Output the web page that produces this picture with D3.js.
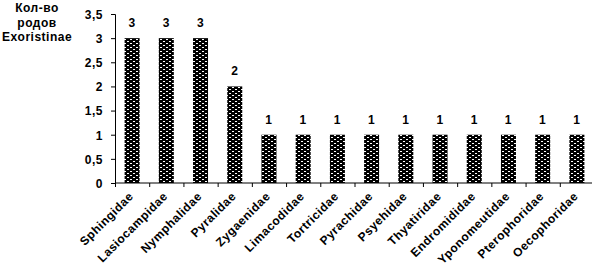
<!doctype html>
<html>
<head>
<meta charset="utf-8">
<script src="https://cdn.jsdelivr.net/npm/d3@7/dist/d3.min.js"></script>
<style>
        body { margin: 0; background: white; }
        svg { display: block; }
        text { font-family: "Liberation Sans", Arial, sans-serif; font-weight: bold; font-size: 12px; letter-spacing: 0.5px; fill: black; }
</style>
</head>
<body>
<svg width="592" height="272"></svg>
<script>

var families = ["Sphingidae", "Lasiocampidae", "Nymphalidae", "Pyralidae", "Zygaenidae",
        "Limacodidae", "Tortricidae", "Pyrachidae", "Psyehidae", "Thyatiridae",
        "Endromididae", "Yponomeutidae", "Pterophoridae", "Oecophoridae"];
var genera = [3, 3, 3, 2, 1, 1, 1, 1, 1, 1, 1, 1, 1, 1];
var yTicks = [0, 0.5, 1, 1.5, 2, 2.5, 3, 3.5];
var titleLines = ["Кол-во", "родов", "Exoristinae"];

var svg = d3.select("svg");

// brick-like fill of the bars
var pat = svg.append("defs").append("pattern")
        .attr("id", "brick")
        .attr("patternUnits", "userSpaceOnUse")
        .attr("width", 6).attr("height", 4);
pat.append("rect").attr("width", 6).attr("height", 4).attr("fill", "black");
[[1, 1], [2, 1], [4, 3], [5, 3]].forEach(function(p) {
        pat.append("rect").attr("x", p[0]).attr("y", p[1])
           .attr("width", 1).attr("height", 1).attr("fill", "white");
});

var xScale = d3.scaleBand().domain(families).range([115, 594]);
var yScale = d3.scaleLinear().domain([0, 3.5]).range([183, 14]);

var fmt = function(d) { return String(d).replace(".", ","); };

// y axis
var yAxis = d3.axisLeft(yScale).tickValues(yTicks).tickSize(4).tickPadding(8).tickFormat(fmt);
var yg = svg.append("g").attr("transform", "translate(115,0)").call(yAxis);
yg.select(".domain").attr("stroke", "black").attr("stroke-width", 1);
yg.selectAll("text").attr("font-size", null).attr("font-family", null).attr("dy", "0.36em");

// x axis, ticks between categories
var xg = svg.append("g").attr("transform", "translate(0,183)");
xg.append("line").attr("x1", 115).attr("x2", 592).attr("stroke", "black");
xg.selectAll("line.tk")
  .data(families)
  .enter().append("line")
  .attr("class", "tk")
  .attr("x1", function(d) { return xScale(d) + 0.5; })
  .attr("x2", function(d) { return xScale(d) + 0.5; })
  .attr("y1", 0).attr("y2", 4)
  .attr("stroke", "black");

// bars
var bw = 15;
svg.selectAll("rect.bar")
   .data(genera)
   .enter().append("rect")
   .attr("class", "bar")
   .attr("x", function(d, i) { return xScale(families[i]) + xScale.bandwidth() / 2 - bw / 2; })
   .attr("y", function(d) { return yScale(d); })
   .attr("width", bw)
   .attr("height", function(d) { return yScale(0) - yScale(d); })
   .attr("fill", "url(#brick)");

// value labels
svg.selectAll("text.val")
   .data(genera)
   .enter().append("text")
   .attr("class", "val")
   .attr("x", function(d, i) { return xScale(families[i]) + xScale.bandwidth() / 2; })
   .attr("y", function(d) { return yScale(d) - 11; })
   .attr("text-anchor", "middle")
   .text(function(d) { return d; });

// category labels
svg.selectAll("text.cat")
   .data(families)
   .enter().append("text")
   .attr("class", "cat")
   .attr("text-anchor", "end")
   .attr("transform", function(d) {
           return "translate(" + (xScale(d) + xScale.bandwidth() / 2 + 2) + ",197) rotate(-45)";
   })
   .text(function(d) { return d; });

// axis title
svg.selectAll("text.title")
   .data(titleLines)
   .enter().append("text")
   .attr("class", "title")
   .attr("x", 37)
   .attr("y", function(d, i) { return 12 + i * 14.5; })
   .attr("text-anchor", "middle")
   .text(function(d) { return d; });

</script>
</body>
</html>
